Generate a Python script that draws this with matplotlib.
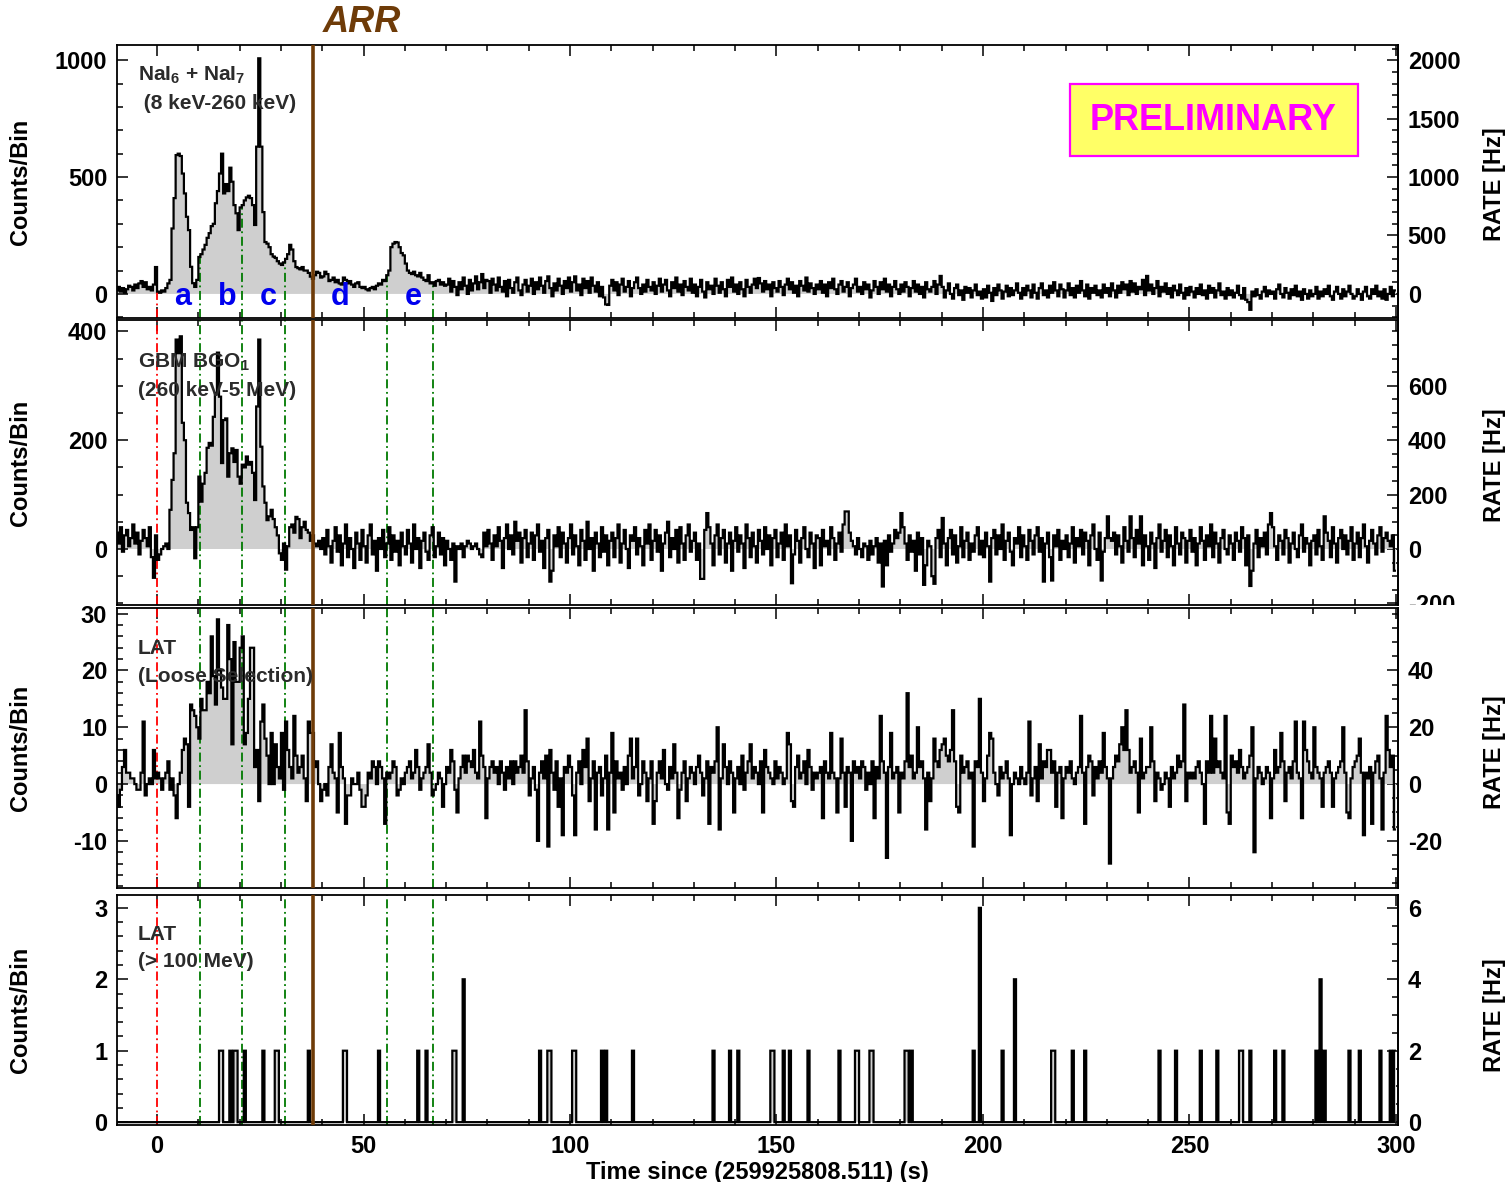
import numpy as np
import matplotlib
matplotlib.use('Agg')
import matplotlib.pyplot as plt
from matplotlib.ticker import MultipleLocator, FixedLocator
from matplotlib.patches import Rectangle
from matplotlib.transforms import Bbox, TransformedBbox
from matplotlib import font_manager

plt.rcParams['font.family'] = ['Liberation Sans', 'DejaVu Sans']
plt.rcParams['font.weight'] = 'bold'
plt.rcParams['axes.labelweight'] = 'bold'
plt.rcParams['axes.unicode_minus'] = False
plt.rcParams['mathtext.fontset'] = 'custom'
plt.rcParams['mathtext.rm'] = 'Liberation Sans:bold'
plt.rcParams['mathtext.default'] = 'rm'

# time bins: 0.5 s from -10 to 300
t_lo, t_hi, t_bin = -10, 300, 0.5

# NaI 6+7 (8 keV-260 keV), counts per bin, one row = 10 s
nai = [
    15, 30, 10, 25, 5, 20, 35, 30, 15, 40, 25, 45, 55, 30, 50, 20, 30, 15, 40, 115,
    10, 5, 15, 10, 25, 45, 60, 280, 410, 594, 600, 590, 515, 430, 330, 273, 116, 46, 30, 60,
    158, 170, 190, 210, 240, 260, 290, 300, 388, 440, 515, 600, 430, 470, 440, 540, 480, 380, 345, 273,
    370, 380, 400, 413, 420, 410, 380, 295, 630, 1008, 630, 350, 222, 215, 200, 170, 160, 154, 140, 130,
    124, 135, 150, 170, 210, 190, 140, 115, 110, 105, 115, 100, 100, 90, 74, 65, 80, 95, 90, 70,
    75, 95, 85, 55, 60, 70, 50, 60, 45, 40, 70, 60, 45, 55, 40, 30, 45, 50, 30, 25,
    30, 20, 15, 25, 30, 20, 35, 45, 40, 60, 55, 80, 100, 200, 215, 222, 220, 200, 175, 165,
    130, 100, 90, 85, 95, 80, 75, 90, 70, 60, 55, 80, 45, 50, 35, 55, 60, 40, 50, 35,
    40, 65, 10, 55, 30, -5, 50, 20, 70, 35, 0, 60, 15, 45, 75, 20, 50, 85, 25, 60,
    55, 5, 65, 40, 15, 70, 30, 10, 55, -10, 60, 25, 5, 50, 70, 15, -5, 40, 60, 10,
    35, 65, 0, 50, 20, 70, 35, 5, 55, 75, 25, -10, 45, 15, 65, 35, 0, 55, 25, 70,
    10, 50, 75, 15, 40, -5, 65, 25, 55, 5, 70, 35, 10, 50, -10, 30, -15, -45, -47, 35,
    60, 15, 50, -5, 40, 65, 10, 30, 55, -10, 25, 50, 70, 25, 0, 40, 10, 60, 30, 15,
    50, 0, 35, 65, 10, 40, 60, 15, -10, 50, 25, 70, 10, 40, -5, 55, 30, 15, 65, 5,
    40, -10, 30, 60, 10, -15, 50, 20, 35, 0, 65, 35, 5, 50, 20, -10, 60, 30, 70, 10,
    40, 0, 50, 20, -10, 60, 30, 5, 40, 65, 25, 68, 45, 10, 55, 20, 40, -10, 50, 25,
    10, 55, 30, -5, 40, 65, 20, 50, 5, 35, -10, 55, 35, 15, 70, 10, 45, 25, 0, 40,
    20, 55, 5, 40, -10, 50, 25, 65, 20, 0, 40, 55, 10, 30, 50, -10, 25, 40, 65, 10,
    30, 0, 50, 20, 40, -15, 15, 55, 30, 0, 50, 20, 65, 10, 40, -10, 30, 55, 20, 0,
    40, 10, 50, 30, -10, 25, 55, 10, 40, 0, 30, -15, 50, 20, 10, 30, 55, 0, 40, 77,
    30, -15, 15, 45, 0, -20, 25, 40, -5, 15, -25, 30, 5, 25, -15, 15, 40, -5, 10, -20,
    20, -15, 35, 5, -30, 25, -5, 40, 15, -20, 10, 35, -10, 25, -5, 15, 45, 5, -20, 25,
    -5, 35, 15, -15, 40, 5, -20, 25, 45, -5, 15, -15, 35, 5, 50, 15, -10, 40, 20, -15,
    15, 45, -5, 25, -15, 35, 5, 55, 15, -10, 40, -20, 25, 5, 35, -5, 15, -15, 40, 5,
    25, -10, 45, 15, -15, 35, 5, 50, 20, 40, -5, 55, 10, 45, 0, 30, 20, 60, -5, 77,
    15, 40, 0, 25, 55, -10, 30, 10, 45, 0, 25, -15, 35, 15, -5, 40, 5, -20, 25, -5,
    30, 10, -15, 25, 0, 40, -5, 15, -20, 35, 5, 25, -15, 15, 45, -5, 10, -20, 25, -5,
    15, -15, 5, 35, -5, -20, 25, -25, -35, -68, 10, -10, 20, -5, -20, 10, 30, -10, 15, 0,
    10, -20, 20, 40, 0, -15, 25, 5, -20, 20, -5, 35, -10, 10, -25, 20, 0, -20, 15, -10,
    0, 30, -20, 10, -10, 20, 0, 35, -10, -25, 10, 30, 0, -20, 20, -10, 10, 35, 0, -20,
    -10, 20, 0, -25, 10, 30, -10, -20, 20, 0, 35, -10, 10, -20, 20, -25, 0, 30, -10, 15,
]

# GBM BGO 1 (260 keV-5 MeV)
bgo = [
    30, 10, 40, -5, 25, 35, 5, 20, 45, 10, 30, -10, 15, 35, 20, 5, 40, -15, -53, 25,
    -20, -10, 0, 5, 10, 0, 72, 127, 176, 385, 360, 391, 232, 200, 85, 66, 35, 40, -17, 40,
    133, 87, 120, 140, 186, 195, 190, 243, 287, 361, 280, 158, 237, 240, 133, 176, 185, 160, 182, 133,
    120, 155, 150, 170, 155, 160, 140, 90, 262, 385, 188, 115, 85, 53, 60, 72, 55, 40, 25, -8,
    -20, 10, -38, 5, 40, 45, 30, 59, 55, 20, 40, 50, 35, 30, 15, 25, 10, 5, 15, 0,
    20, -10, 35, 5, -25, 15, 40, -5, 25, -30, 10, 45, -15, 20, 0, -35, 30, 10, -20, 35,
    5, -25, 25, 45, -10, 15, -40, 20, 0, 35, -15, 10, 40, -20, 25, -5, 15, -30, 30, 5,
    -10, 35, 10, -25, 45, 0, 20, -35, 15, 30, -5, -20, 25, 40, -15, 5, 30, -10, 20, -30,
    15, 0, -20, 10, -60, 5, 0, 10, -15, 5, 15, 10, 0, 5, 10, 0, -10, -15, 30, 5,
    35, 10, -20, 25, 5, 40, 15, -35, 20, 45, 0, 25, -10, 50, 15, 30, -25, 20, 35, -15,
    10, 30, -20, 25, 45, -5, 15, -35, 20, 35, -60, -40, 25, 5, 40, -15, 30, 10, -25, 20,
    45, -10, 25, 5, -30, 35, 15, -20, 50, 0, 20, -40, 30, 10, -15, 40, -5, 25, -30, 15,
    30, -15, 20, 45, -25, 10, 35, 0, -35, 25, 15, 40, -10, 20, 5, -30, 35, 10, 45, -20,
    15, 35, -5, 25, -40, 10, 30, 50, -15, 20, 0, 35, -25, 40, 10, -20, 25, 45, -5, 15,
    30, -20, 10, -55, -55, 35, 66, 40, 10, -30, 25, 45, -10, 20, 35, -25, 10, 30, -40, 15,
    40, -5, 25, 10, -35, 45, 20, -15, 30, 5, -25, 35, 15, -10, 40, 0, 25, -30, 20, 35,
    -15, 10, 30, -20, 45, 5, 25, -63, -10, 35, 15, -25, 20, 40, 0, -15, 30, 10, -35, 25,
    20, -30, 35, 5, 15, -10, 40, 20, -20, 10, 30, -5, 45, 69, 69, 30, 15, 5, -10, 20,
    0, -15, 10, 5, -20, 15, -10, 5, 20, -25, 10, -69, 15, -30, 25, -5, 10, 35, 20, 30,
    66, 40, 10, -20, 25, -5, 15, -40, 30, -10, 20, -66, -30, 15, 5, -50, -64, 20, 35, -15,
    57, 10, -30, 20, 35, -10, 25, -25, 5, 40, -15, 15, 30, -20, 10, -5, 25, 40, -10, 15,
    -15, 30, 5, -60, 20, 35, -10, 25, 0, 45, -20, 15, 30, -5, -30, 20, 10, 40, -15, 25,
    5, -20, 35, 15, -10, 25, 40, -5, 20, -60, 10, 30, -15, -58, 25, 5, 35, -20, 15, 0,
    25, -15, 10, 40, -25, 20, 5, 35, -10, 30, 15, -30, 25, 45, 0, -20, 30, -58, -5, 20,
    60, 20, 15, 30, -10, 25, 5, -25, 40, 15, -5, 60, 20, -15, 35, 10, 60, -30, 25, 5,
    -20, 30, 10, -35, 20, 45, -5, 15, 35, -15, 25, 5, -30, 40, 10, -10, 30, 20, -25, 15,
    35, -5, 20, -30, 10, 40, 15, -20, 25, 5, 45, -15, 30, 10, -25, 20, 35, 0, -10, 25,
    10, -20, 30, 15, -5, 40, 20, -30, 25, -68, -40, 10, 35, -15, 20, 5, 30, -10, 45, 66,
    40, 5, -20, 25, 15, -10, 35, 20, -25, 10, 30, 0, -15, 25, 45, -5, 20, 10, -30, 15,
    25, -10, 35, 5, -20, 60, 30, 15, -15, 40, 10, -25, 20, 35, 0, 25, -10, 15, 40, -20,
    10, 30, -15, 20, 45, 5, -25, 15, 35, 10, -10, 25, 40, -5, 20, 30, 15, 5, 25, -40,
]

# LAT loose selection, background subtracted
lat = [
    -2, -4, -1, 3, 6, 2, 2, 1, 1, 0, -1, -1, 2, 11, -2, 0, 1, 0, 6, 1,
    2, 1, -1, 1, 2, 4, -1, 1, -2, -6, 0, 2, 6, 8, 7, -4, 14, 13, 12, 10,
    8, 15, 13, 13, 18, 16, 26, 19, 14, 29, 20, 17, 15, 15, 28, 22, 7, 25, 18, 18,
    24, 26, 7, 9, 15, 24, 24, 3, 6, -3, 11, 14, 8, 5, 0, 9, 0, 7, 3, 1,
    9, -1, 11, 6, 3, 1, 12, 5, 2, 3, 5, 1, -3, 11, 9, 9, 3, 4, 0, -3,
    -1, 0, -2, 3, 7, 2, 1, -5, 9, 3, 1, -7, -2, -2, 1, 0, 0, 2, -1, -4,
    -4, -2, 2, 1, 4, 3, 0, 4, 3, 1, -7, 2, 1, 2, 4, 3, -2, -1, 1, 0,
    2, 3, 4, 1, 2, 6, 3, -1, 1, 2, 3, 7, 2, -2, -1, 0, 2, 1, -4, 0,
    3, 2, 6, 4, -1, -5, 1, 3, 5, 2, 5, 4, 3, 6, 2, 1, 11, 5, 3, -6,
    1, 3, 4, 2, 3, 0, 4, 2, -1, 3, 1, 4, 0, 4, 2, 3, 5, 2, 13, 4,
    -2, 1, 3, -1, -10, 2, 4, 1, 5, -11, 6, 2, -1, 4, -4, 1, -9, 3, 2, 5,
    3, -2, -9, 2, 4, 0, 6, 3, 8, -3, 1, 4, -8, 2, 3, -2, 1, 5, -8, 2,
    9, -5, 4, 1, 2, -1, 3, 0, 5, 8, 1, 3, 8, -2, 0, 4, 2, -3, 1, 4,
    -7, -3, 2, 4, 1, 6, 0, -1, 3, 1, 7, 2, -6, -1, 2, 4, -3, 1, 3, 2,
    0, 3, 5, 2, -2, 1, 4, -7, 3, 2, 4, 10, -8, 1, 7, 3, 0, 4, 2, -5,
    1, 3, 0, 5, -1, 2, 4, 7, 1, 3, 2, 0, 4, -5, 6, 3, 2, 1, 0, 4,
    1, 3, 2, 0, 1, 9, 7, -3, -4, 3, 5, 1, 2, 4, 0, 6, 3, -1, 2, 1,
    2, 3, -6, 4, 2, 1, 9, 2, 1, -5, 1, 8, 2, -4, 3, 2, -10, 4, 2, 3,
    1, 4, 3, -1, 2, 0, 4, -6, 3, 1, 12, 4, 2, -13, 3, 9, 1, 2, 3, -5,
    2, 1, 4, 16, 3, 5, 1, 2, 10, 3, 4, 1, -8, 2, -3, 1, 8, 4, 3, 6,
    7, 8, 5, 4, 6, 13, 4, -4, -5, 5, 2, 3, 4, 1, 2, -11, 4, 3, 15, 2,
    -3, 1, 5, 9, 8, 2, 0, -2, 3, 1, 2, 4, 1, -9, 0, 2, 1, 0, 3, 1,
    0, 2, 11, -2, 1, 3, -3, 7, 1, 4, 3, 6, 6, 2, 4, -4, 2, 3, -6, 1,
    3, 2, 4, 1, 0, 2, 3, 12, 2, -7, 3, 5, 4, -2, 3, 1, 4, 2, 9, 3,
    1, -14, 1, 3, 5, 4, 7, 10, 6, 13, 6, 2, 3, 4, 2, -5, 8, 1, 2, 3,
    3, 10, 4, -3, 2, 1, -1, 0, 2, 1, -4, 3, 1, 2, 5, 3, 4, 14, -3, 2,
    1, 2, 1, 3, 4, 2, 0, -7, 4, 2, 12, 2, 8, 3, 4, 2, 1, 12, -5, -7,
    5, 3, 4, 2, 6, 3, 1, 2, 3, 5, 10, -12, 1, 3, 2, 0, 1, 3, 2, -6,
    1, 6, 2, 3, 9, 4, -3, 2, 3, 1, 4, 11, 2, 1, -6, 11, 6, 4, 2, 1,
    10, 3, 2, 1, -4, 2, 3, 4, 2, -4, 1, 2, 3, 4, 10, 2, -5, -6, 1, 3,
    4, 5, 8, 2, -9, 2, 1, 3, -7, 2, 4, 5, 1, -8, 2, 12, 6, 3, 5, -8,
]

# LAT > 100 MeV: bin start times of the non-empty bins and their counts
lat_hi_t = [15.0, 15.5, 17.5, 18.5, 19.0, 21.0, 25.5, 28.5, 29.0, 36.5, 45.0, 45.5,
            53.5, 63.0, 65.0, 71.5, 72.0, 74.0, 92.5, 94.5, 95.0, 100.5, 101.0,
            107.5, 108.5, 115.0, 134.5, 138.5, 140.5, 148.5, 149.0, 151.5, 153.0,
            157.5, 165.0, 169.0, 169.5, 172.5, 173.0, 181.0, 181.5, 182.5, 197.5,
            199.0, 204.5, 207.5, 216.5, 217.0, 221.5, 224.5, 242.5, 246.5, 252.5,
            256.5, 262.0, 262.5, 264.5, 270.5, 272.5, 280.5, 281.5, 282.5, 288.5,
            291.0, 296.0, 298.5, 299.5]
lat_hi_n = [1, 1, 1, 1, 1, 1, 1, 1, 1, 1, 1, 1,
            1, 1, 1, 1, 1, 2, 1, 1, 1, 1, 1,
            1, 1, 1, 1, 1, 1, 1, 1, 1, 1,
            1, 1, 1, 1, 1, 1, 1, 1, 1, 1,
            3, 1, 2, 1, 1, 1, 1, 1, 1, 1,
            1, 1, 1, 1, 1, 1, 1, 2, 1, 1,
            1, 1, 1, 1]

# interval markers
t_trig = 0.0
t_cuts = [10.5, 20.5, 31.0, 55.7, 66.8]
t_arr = 37.8
seg_names = ['a', 'b', 'c', 'd', 'e']
seg_pos = [6.3, 17.0, 26.9, 44.3, 62.0]

edges = np.arange(t_lo, t_hi + t_bin / 2, t_bin)
nbin = len(edges) - 1
for name, arr in [('nai', nai), ('bgo', bgo), ('lat', lat)]:
    assert len(arr) == nbin, (name, len(arr), nbin)
lat_hi = np.zeros(nbin)
for t, n in zip(lat_hi_t, lat_hi_n):
    lat_hi[int(round((t - t_lo) / t_bin))] += n

fig = plt.figure(figsize=(15.11, 11.82), dpi=100)
W, H = 1511.0, 1182.0
def px_axes(x0, y0, x1, y1):
    return fig.add_axes([x0 / W, 1 - y1 / H, (x1 - x0) / W, (y1 - y0) / H])

ax1 = px_axes(117, 45, 1398, 318)
ax2 = px_axes(117, 320, 1398, 605)
ax3 = px_axes(117, 608, 1398, 888)
ax4 = px_axes(117, 895, 1398, 1125)

panels = [
    (ax1, nai, (-103, 1065), [0, 500, 1000], 100, [0, 500, 1000, 1500, 2000], 100,
     'NaI$_{6}$ + NaI$_{7}$', ' (8 keV-260 keV)', 0.89, 0.785, 184),
    (ax2, bgo, (-103, 421), [0, 200, 400], 50, [-200, 0, 200, 400, 600], 50,
     'GBM BGO$_{1}$', '(260 keV-5 MeV)', 0.853, 0.754, 465),
    (ax3, lat, (-18.3, 31), [-10, 0, 10, 20, 30], 2, [-20, 0, 20, 40], 5,
     'LAT', '(Loose Selection)', 0.857, 0.754, 752),
    (ax4, lat_hi, (-0.04, 3.18), [0, 1, 2, 3], 0.2, [0, 2, 4, 6], 0.5,
     'LAT', '(> 100 MeV)', 0.83, 0.709, 1015),
]

fs = 17
dash_dot = (0, (5, 2, 1, 2))
brown = '#6e3b08'
green = '#007a00'

for i, (ax, vals, ylim, yt, ymin, rt, rmin, lab1, lab2, ly1, ly2, ry) in enumerate(panels):
    vals = np.asarray(vals, dtype=float)
    ax.stairs(vals, edges, baseline=0, fill=True, color='#cfcfcf', zorder=1)
    ax.stairs(vals, edges, baseline=None, color='black', lw=1.6, zorder=3)
    ax.set_xlim(-9.7, 300.5)
    ax.set_ylim(*ylim)
    ax.yaxis.set_major_locator(FixedLocator(yt))
    ax.yaxis.set_minor_locator(MultipleLocator(ymin))
    ax.xaxis.set_major_locator(MultipleLocator(50))
    ax.xaxis.set_minor_locator(MultipleLocator(10))
    ax.tick_params(which='both', direction='in', top=True, right=False, labelsize=fs, width=1.1)
    ax.tick_params(which='major', length=8, pad=7)
    ax.tick_params(which='minor', length=4)
    if i < 3:
        ax.tick_params(labelbottom=False)
    for sp in ax.spines.values():
        sp.set_linewidth(1.3)
    ax.set_ylabel('Counts/Bin', fontsize=fs)
    ax.yaxis.set_label_coords(-0.0664, 0.5)

    sec = ax.secondary_yaxis('right', functions=(lambda y: 2 * y, lambda y: y / 2))
    sec.yaxis.set_major_locator(FixedLocator(rt))
    sec.yaxis.set_minor_locator(MultipleLocator(rmin))
    sec.tick_params(which='both', direction='in', labelsize=fs, width=1.1)
    sec.tick_params(which='major', length=8, pad=7)
    sec.tick_params(which='minor', length=4)
    sec.spines['right'].set_linewidth(1.3)
    fig.text(1495 / W, 1 - ry / H, 'RATE [Hz]', fontsize=fs, rotation=90,
             ha='center', va='center')
    if ax is ax2:
        clip = TransformedBbox(Bbox.from_extents(0, 1 - 605 / H, 1, 1), fig.transFigure)
        for lab in sec.get_yticklabels():
            lab.set_clip_box(clip)
            lab.set_clip_on(True)

    ax.text(0.0164, ly1, lab1, transform=ax.transAxes, fontsize=15,
            color='#2b2b2b', va='center', ha='left', zorder=6)
    ax.text(0.0164, ly2, lab2, transform=ax.transAxes, fontsize=15,
            color='#2b2b2b', va='center', ha='left', zorder=6)

    # interval markers
    if ax is ax1:
        for t, c in zip([t_trig] + t_cuts, ['red'] + [green] * len(t_cuts)):
            top = vals[int((t - t_lo) / t_bin)]
            ax.vlines(t, ylim[0], top, colors=c, lw=1.3, linestyles=[dash_dot], zorder=2)
    else:
        ax.axvline(t_trig, color='red', lw=1.3, ls=dash_dot, zorder=2)
        for t in t_cuts:
            ax.axvline(t, color=green, lw=1.3, ls=dash_dot, zorder=2)
    ax.axvline(t_arr, color=brown, lw=2.6, zorder=4)

ax4.set_xlabel('Time since (259925808.511) (s)', fontsize=fs, labelpad=2)

for name, t in zip(seg_names, seg_pos):
    ax1.text(t, -15, name, color='#0000ee', fontsize=22, ha='center', va='center', zorder=6)

# PRELIMINARY stamp
ax1.add_patch(Rectangle((0.744, 0.593), 0.225, 0.264, transform=ax1.transAxes,
                        facecolor='#ffff66', edgecolor='#ff00ff', lw=1.6, zorder=7))
names = {f.name for f in font_manager.fontManager.ttflist}
if 'Liberation Sans Narrow' in names:
    stamp_font, stamp_size = 'Liberation Sans Narrow', 31
else:
    stamp_font, stamp_size = 'Liberation Sans', 26
ax1.text(0.856, 0.725, 'PRELIMINARY', transform=ax1.transAxes, ha='center', va='center',
         color='#ff00ff', fontsize=stamp_size, family=[stamp_font, 'DejaVu Sans'], zorder=8)

fig.text(323 / W, 1 - 22 / H, 'ARR', color=brown, fontsize=26, style='italic',
         ha='left', va='center')

fig.savefig('out.png', dpi=100)
